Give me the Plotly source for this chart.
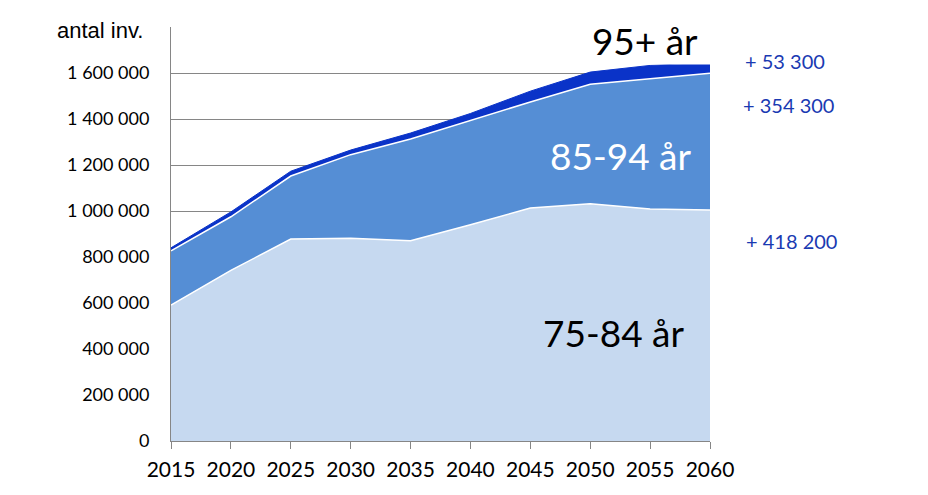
import plotly.graph_objects as go

years = [2015, 2020, 2025, 2030, 2035, 2040, 2045, 2050, 2055, 2060]
age_75_84 = [591000, 742000, 878000, 882000, 871000, 940000, 1013000, 1031000, 1009000, 1004000]
age_85_94 = [236000, 233000, 274000, 363000, 442000, 455000, 461000, 520000, 567000, 595000]
age_95_plus = [13000, 21000, 21000, 20000, 26000, 29000, 47000, 53000, 57000, 46000]

y_tickvals = [0, 200000, 400000, 600000, 800000, 1000000, 1200000, 1400000, 1600000, 1800000]
y_ticktext = ["0", "200 000", "400 000", "600 000", "800 000", "1 000 000",
              "1 200 000", "1 400 000", "1 600 000", ""]
x_ticks = years

change_labels = ["+ 53 300", "+ 354 300", "+ 418 200"]
series_labels = ["95+ år", "85-94 år", "75-84 år"]

OFF = 8  # page body margin
L, R, T, B = 171 - OFF, 710 - OFF, 27 - OFF, 441 - OFF
W, H = 928 - OFF, 495 - OFF


def px(x):
    return (x - OFF - L) / (R - L)


def py(y):
    return (B - (y - OFF)) / (B - T)


fig = go.Figure()
fig.add_trace(go.Scatter(x=years, y=age_75_84, stackgroup="a", mode="lines",
                         line=dict(color="white", width=1.5), fillcolor="#c6d9f0",
                         name="75-84 år"))
fig.add_trace(go.Scatter(x=years, y=age_85_94, stackgroup="a", mode="lines",
                         line=dict(color="white", width=1.5), fillcolor="#558ed5",
                         name="85-94 år"))
fig.add_trace(go.Scatter(x=years, y=age_95_plus, stackgroup="a", mode="lines",
                         line=dict(color="#0a33c8", width=1), fillcolor="#0a33c8",
                         name="95+ år"))

font_main = "Lato, 'Noto Sans', sans-serif"

annotations = [
    dict(text="antal inv.", x=100, y=30,
         font=dict(family="Liberation Sans, Arial, sans-serif", size=22, color="black")),
    dict(text=series_labels[0], x=645, y=40, font=dict(family=font_main, size=37, color="black"),
         bgcolor="white", width=140),
    dict(text=series_labels[1], x=620, y=155, font=dict(family=font_main, size=37, color="white")),
    dict(text=series_labels[2], x=613, y=332, font=dict(family=font_main, size=37, color="black")),
    dict(text=change_labels[0], x=785, y=61, font=dict(family=font_main, size=20, color="#1a3ab2")),
    dict(text=change_labels[1], x=788, y=105, font=dict(family=font_main, size=20, color="#1a3ab2")),
    dict(text=change_labels[2], x=791, y=241, font=dict(family=font_main, size=20, color="#1a3ab2")),
]
ann_objs = []
for a in annotations:
    a = dict(a)
    xx, yy = a.pop("x"), a.pop("y")
    ann_objs.append(dict(x=px(xx), y=py(yy), xref="paper", yref="paper",
                         showarrow=False, xanchor="center", yanchor="middle", **a))

fig.update_layout(
    width=W, height=H,
    margin=dict(l=L, r=W - R, t=T, b=H - B, pad=0),
    plot_bgcolor="white", paper_bgcolor="white",
    showlegend=False,
    annotations=ann_objs,
    xaxis=dict(range=[2015, 2060], tickvals=x_ticks, ticks="outside", ticklen=7,
               tickcolor="#868686", showline=True, linecolor="#868686", linewidth=1,
               showgrid=False, zeroline=False, ticklabelstandoff=3,
               tickfont=dict(family=font_main, size=21, color="black")),
    yaxis=dict(range=[0, 1800000], tickvals=y_tickvals, ticktext=y_ticktext,
               showgrid=True, gridcolor="#868686", gridwidth=1,
               showline=True, linecolor="#868686", linewidth=1, zeroline=False,
               ticks="", ticklabelstandoff=17,
               tickfont=dict(family=font_main, size=18, color="black")),
)

fig.write_html("out.html")
